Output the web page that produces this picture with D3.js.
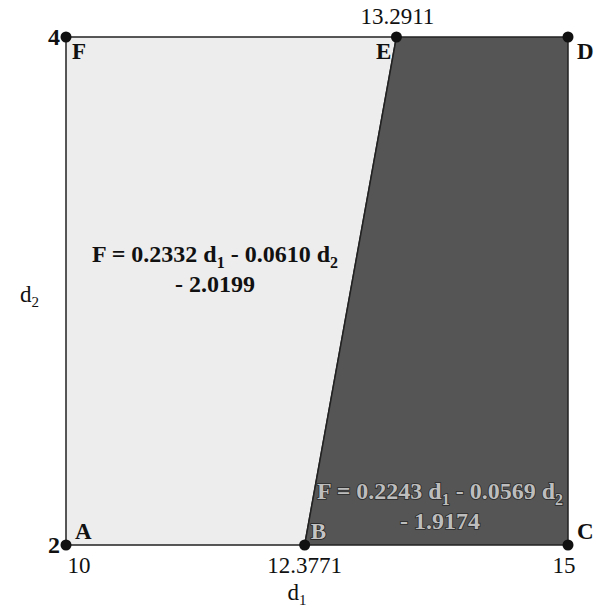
<!DOCTYPE html>
<html>
<head>
<meta charset="utf-8">
<script src="https://cdn.jsdelivr.net/npm/d3@7"></script>
<style>
  body { margin: 0; background: #fff; }
  svg text { font-family: "Liberation Serif", "Times New Roman", Times, serif; }
</style>
</head>
<body>
<svg width="596" height="612"></svg>
<script>
// vertices of the region
const pointNames = ["A", "B", "C", "D", "E", "F"]
const pointD1 = [10, 12.3771, 15, 15, 13.2911, 10]
const pointD2 = [2, 2, 2, 4, 4, 4]

// the two regions, by vertex name
const lightRegion = ["A", "B", "E", "F"]
const darkRegion = ["B", "C", "D", "E"]

// tick labels
const xTicks = [10, 12.3771, 15]
const xTickLabels = ["10", "12.3771", "15"]
const topTicks = [13.2911]
const topTickLabels = ["13.2911"]
const yTicks = [2, 4]
const yTickLabels = ["2", "4"]

const eq1 = ["0.2332", "0.0610", "2.0199"]
const eq2 = ["0.2243", "0.0569", "1.9174"]

const svg = d3.select("svg")

const x = d3.scaleLinear().domain([10, 15]).range([66, 568])
const y = d3.scaleLinear().domain([2, 4]).range([545, 37])

const pts = {}
pointNames.forEach((n, i) => pts[n] = [pointD1[i], pointD2[i]])

const line = d3.line().x(d => x(d[0])).y(d => y(d[1]))

svg.append("path")
  .datum(lightRegion.map(n => pts[n]).concat([pts[lightRegion[0]]]))
  .attr("d", line)
  .attr("fill", "#ededed")
  .attr("stroke", "#222")
  .attr("stroke-width", 1.5)

svg.append("path")
  .datum(darkRegion.map(n => pts[n]).concat([pts[darkRegion[0]]]))
  .attr("d", line)
  .attr("fill", "#555")
  .attr("stroke", "#222")
  .attr("stroke-width", 1.5)

// dots
svg.selectAll("circle.pt")
  .data(pointNames)
  .enter()
  .append("circle")
  .attr("class", "pt")
  .attr("cx", n => x(pts[n][0]))
  .attr("cy", n => y(pts[n][1]))
  .attr("r", 5.5)
  .attr("fill", "#111")

// vertex letters
const letterOffset = {A: [9, -6, "start"], B: [6, -6, "start"], C: [9, -6, "start"],
                      D: [9, 22, "start"], E: [-5, 22, "end"], F: [6, 22, "start"]}
svg.selectAll("text.letter")
  .data(pointNames)
  .enter()
  .append("text")
  .attr("class", "letter")
  .attr("x", n => x(pts[n][0]) + letterOffset[n][0])
  .attr("y", n => y(pts[n][1]) + letterOffset[n][1])
  .attr("text-anchor", n => letterOffset[n][2])
  .attr("font-size", "23px")
  .attr("font-weight", "bold")
  .attr("fill", n => (n === "B" ? "#c4c4c4" : "#111"))
  .attr("stroke", n => (n === "B" ? "#222" : "none"))
  .attr("stroke-width", 1.5)
  .attr("paint-order", "stroke")
  .text(n => n)

// tick labels
svg.selectAll("text.xtick")
  .data(xTicks)
  .enter()
  .append("text")
  .attr("x", (d, i) => x(d) + (i === 0 ? 13 : i === 2 ? -4 : 0))
  .attr("y", y(2) + 28)
  .attr("text-anchor", "middle")
  .attr("font-size", "23px")
  .attr("fill", "#111")
  .text((d, i) => xTickLabels[i])

svg.selectAll("text.toptick")
  .data(topTicks)
  .enter()
  .append("text")
  .attr("x", d => x(d) + 1)
  .attr("y", y(4) - 13)
  .attr("text-anchor", "middle")
  .attr("font-size", "23px")
  .attr("fill", "#111")
  .text((d, i) => topTickLabels[i])

svg.selectAll("text.ytick")
  .data(yTicks)
  .enter()
  .append("text")
  .attr("x", x(10) - 6)
  .attr("y", d => y(d) + 8)
  .attr("text-anchor", "end")
  .attr("font-size", "24px")
  .attr("font-weight", "bold")
  .attr("fill", "#111")
  .text((d, i) => yTickLabels[i])

// axis titles
const xTitle = svg.append("text")
  .attr("x", 297).attr("y", 600)
  .attr("text-anchor", "middle")
  .attr("font-size", "23px")
  .attr("fill", "#111")
xTitle.append("tspan").text("d")
xTitle.append("tspan").attr("font-size", "15px").attr("dy", 5).text("1")

const yTitle = svg.append("text")
  .attr("x", 20).attr("y", 302)
  .attr("font-size", "23px")
  .attr("fill", "#111")
yTitle.append("tspan").text("d")
yTitle.append("tspan").attr("font-size", "15px").attr("dy", 5).text("2")

// equations
function equation(cx, by, coef, fill, stroke) {
  const t = svg.append("text")
    .attr("x", cx).attr("y", by)
    .attr("text-anchor", "middle")
    .attr("font-size", "24px")
    .attr("font-weight", "bold")
    .attr("fill", fill)
    .attr("stroke", stroke)
    .attr("stroke-width", stroke === "none" ? 0 : 1.6)
    .attr("paint-order", "stroke")
  t.append("tspan").text("F = " + coef[0] + " d")
  t.append("tspan").attr("font-size", "16px").attr("dy", 6).text("1")
  t.append("tspan").attr("dy", -6).text(" - " + coef[1] + " d")
  t.append("tspan").attr("font-size", "16px").attr("dy", 6).text("2")

  svg.append("text")
    .attr("x", cx).attr("y", by + 30)
    .attr("text-anchor", "middle")
    .attr("font-size", "24px")
    .attr("font-weight", "bold")
    .attr("fill", fill)
    .attr("stroke", stroke)
    .attr("stroke-width", stroke === "none" ? 0 : 1.6)
    .attr("paint-order", "stroke")
    .text("- " + coef[2])
}

equation(215, 262, eq1, "#111", "none")
equation(440, 499, eq2, "#bdbdbd", "#2a2a2a")
</script>
</body>
</html>
